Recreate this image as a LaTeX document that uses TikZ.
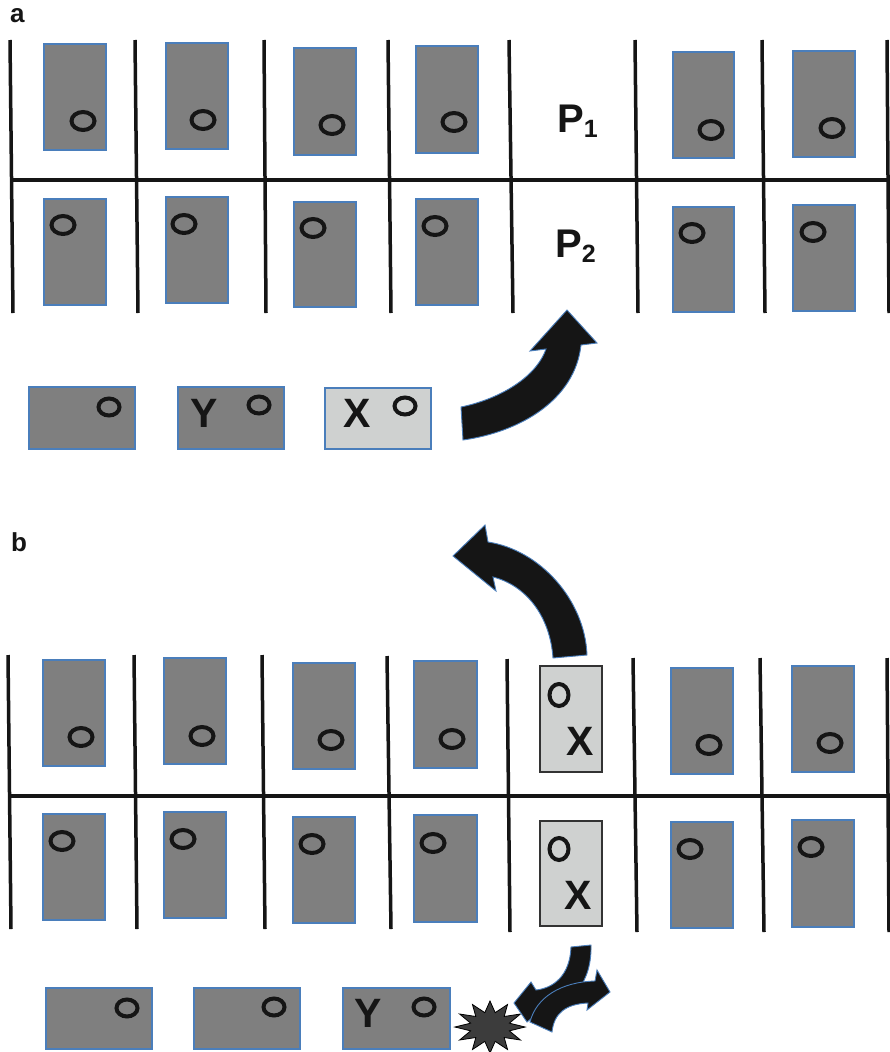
\documentclass[tikz,border=0pt]{standalone}
\usepackage{fontspec}
\setmainfont{Liberation Sans}
\usetikzlibrary{shapes.geometric}
\definecolor{boxgray}{HTML}{7F7F7F}
\definecolor{lightbox}{HTML}{CFD1D0}
\definecolor{edgeblue}{HTML}{4A7EBB}
\definecolor{ink}{HTML}{151515}
\definecolor{burstgray}{HTML}{3C3C3C}
\begin{document}
\begin{tikzpicture}[x=1pt,y=-1pt,
  gridline/.style={draw=ink, line width=3.5pt},
  cell/.style={draw=edgeblue, line width=1.2pt, fill=boxgray},
  xcell/.style={draw=edgeblue, line width=1.2pt, fill=lightbox},
  xcellb/.style={draw=black!80, line width=1.6pt, fill=lightbox},
  ring/.style={draw=ink, line width=4pt},
  bigarrow/.style={fill=ink, draw=edgeblue, line width=0.9pt, line join=miter},
  lbl/.style={font=\fontsize{41}{41}\selectfont\bfseries, text=ink, inner sep=0pt},
  plbl/.style={font=\fontsize{40}{40}\selectfont\bfseries, text=ink, inner sep=0pt, anchor=base west},
  panel/.style={font=\fontsize{26}{26}\selectfont\bfseries, text=ink, inner sep=0pt, anchor=base west}
]
\useasboundingbox (0,0) rectangle (889,1052);
\fill[white] (0,0) rectangle (889,1052);

% ---------------- panel a ----------------
\node[panel] (lbla) at (10,23) {a};
% grid
\draw[gridline] (10,40) -- (13,313);
\draw[gridline] (135,40) -- (138,313);
\draw[gridline] (264,40) -- (266,313);
\draw[gridline] (388,40) -- (391,313);
\draw[gridline] (509,40) -- (513,313);
\draw[gridline] (635,40) -- (638,313);
\draw[gridline] (762,40) -- (765,313);
\draw[gridline] (887,40) -- (889,313);
\draw[gridline] (11,180) -- (889,180);
% row 1
\draw[cell] (44,44) rectangle (106,150);   \draw[ring] (83,121) ellipse [x radius=11.5pt, y radius=9pt];
\draw[cell] (166,43) rectangle (228,149);  \draw[ring] (203,120) ellipse [x radius=11.5pt, y radius=9pt];
\draw[cell] (294,48) rectangle (356,155);  \draw[ring] (332,125) ellipse [x radius=11.5pt, y radius=9pt];
\draw[cell] (416,46) rectangle (478,153);  \draw[ring] (454,122) ellipse [x radius=11.5pt, y radius=9pt];
\draw[cell] (673,52) rectangle (734,158);  \draw[ring] (711,130) ellipse [x radius=11.5pt, y radius=9pt];
\draw[cell] (793,51) rectangle (855,157);  \draw[ring] (832,128) ellipse [x radius=11.5pt, y radius=9pt];
% row 2
\draw[cell] (44,199) rectangle (106,305);  \draw[ring] (63,225) ellipse [x radius=11.5pt, y radius=9pt];
\draw[cell] (166,197) rectangle (228,303); \draw[ring] (184,224) ellipse [x radius=11.5pt, y radius=9pt];
\draw[cell] (294,202) rectangle (356,307); \draw[ring] (313,228) ellipse [x radius=11.5pt, y radius=9pt];
\draw[cell] (416,199) rectangle (478,305); \draw[ring] (435,226) ellipse [x radius=11.5pt, y radius=9pt];
\draw[cell] (673,207) rectangle (734,312); \draw[ring] (692,233) ellipse [x radius=11.5pt, y radius=9pt];
\draw[cell] (793,205) rectangle (855,311); \draw[ring] (813,232) ellipse [x radius=11.5pt, y radius=9pt];
% labels P1 P2
\node[plbl] (p1) at (557,132) {P\raisebox{-5pt}{\fontsize{25}{25}\selectfont 1}};
\node[plbl] (p2) at (555,257) {P\raisebox{-5pt}{\fontsize{25}{25}\selectfont 2}};
% waiting row
\draw[cell] (29,387) rectangle (135,449);  \draw[ring] (109,407) ellipse [x radius=10.5pt, y radius=8.5pt];
\draw[cell] (178,387) rectangle (284,449); \draw[ring] (259,405) ellipse [x radius=10.5pt, y radius=8.5pt];
\node[lbl] (ya) at (204,413) {Y};
\draw[xcell] (325,388) rectangle (431,449); \draw[ring] (405,406) ellipse [x radius=10.5pt, y radius=8.5pt];
\node[lbl] (xa) at (357,413) {X};
% arrow a
\filldraw[bigarrow] (461,407) .. controls (495,400) and (535,380) .. (546,349)
  -- (530,351) -- (567,310) -- (597,343) -- (581,345)
  .. controls (575,400) and (520,432) .. (463,440) -- cycle;

% ---------------- panel b ----------------
\node[panel] (lblb) at (11,551) {b};
\draw[gridline] (8,655) -- (11,929);
\draw[gridline] (134,655) -- (137,929);
\draw[gridline] (262,655) -- (265,929);
\draw[gridline] (387,656) -- (391,929);
\draw[gridline] (507,659) -- (510,932);
\draw[gridline] (633,658) -- (637,932);
\draw[gridline] (760,658) -- (764,932);
\draw[gridline] (887,658) -- (889,932);
\draw[gridline] (9,796) -- (889,796);
% row 1
\draw[cell] (43,660) rectangle (105,766);  \draw[ring] (81,737) ellipse [x radius=11.5pt, y radius=9pt];
\draw[cell] (164,658) rectangle (226,764); \draw[ring] (202,736) ellipse [x radius=11.5pt, y radius=9pt];
\draw[cell] (293,663) rectangle (355,769); \draw[ring] (331,740) ellipse [x radius=11.5pt, y radius=9pt];
\draw[cell] (414,661) rectangle (477,768); \draw[ring] (452,739) ellipse [x radius=11.5pt, y radius=9pt];
\draw[xcellb] (540,666) rectangle (602,772); \draw[ring] (559,695) ellipse [x radius=9.5pt, y radius=11pt];
\node[lbl] (xb1) at (580,741) {X};
\draw[cell] (671,668) rectangle (733,774); \draw[ring] (709,745) ellipse [x radius=11.5pt, y radius=9pt];
\draw[cell] (792,666) rectangle (854,772); \draw[ring] (830,743) ellipse [x radius=11.5pt, y radius=9pt];
% row 2
\draw[cell] (43,814) rectangle (105,920);  \draw[ring] (62,841) ellipse [x radius=11.5pt, y radius=9pt];
\draw[cell] (164,812) rectangle (226,918); \draw[ring] (183,839) ellipse [x radius=11.5pt, y radius=9pt];
\draw[cell] (293,817) rectangle (355,923); \draw[ring] (312,844) ellipse [x radius=11.5pt, y radius=9pt];
\draw[cell] (414,815) rectangle (477,922); \draw[ring] (433,843) ellipse [x radius=11.5pt, y radius=9pt];
\draw[xcellb] (540,821) rectangle (602,926); \draw[ring] (559,849) ellipse [x radius=9.5pt, y radius=11pt];
\node[lbl] (xb2) at (578,895) {X};
\draw[cell] (671,822) rectangle (733,928); \draw[ring] (690,849) ellipse [x radius=11.5pt, y radius=9pt];
\draw[cell] (792,820) rectangle (854,927); \draw[ring] (811,847) ellipse [x radius=11.5pt, y radius=9pt];
% waiting row
\draw[cell] (46,988) rectangle (152,1049);  \draw[ring] (127,1008) ellipse [x radius=10.5pt, y radius=8.5pt];
\draw[cell] (194,988) rectangle (300,1049); \draw[ring] (274,1007) ellipse [x radius=10.5pt, y radius=8.5pt];
\draw[cell] (343,988) rectangle (450,1049); \draw[ring] (424,1007) ellipse [x radius=10.5pt, y radius=8.5pt];
\node[lbl] (yb) at (368,1013) {Y};
% burst
\node[star, star points=12, star point ratio=1.75, minimum size=52pt, inner sep=0pt,
      fill=burstgray, draw=black, line width=0.8pt, xscale=1.35, transform shape] (burst) at (490,1027) {};
% arrow b top
\filldraw[bigarrow] (587,655) .. controls (585,600) and (540,550) .. (488,542)
  -- (485,525) -- (453,556) -- (496,591) -- (493,577)
  .. controls (525,585) and (550,615) .. (553,658) -- cycle;
% small arrows
\filldraw[bigarrow] (571,947) .. controls (570,975) and (554,988) .. (536,990)
  -- (531,982) -- (514,1003) -- (527,1022) -- (541,1011)
  .. controls (572,1006) and (592,982) .. (591,945) -- cycle;
\filldraw[bigarrow] (530,1022) .. controls (536,998) and (560,982) .. (595,981)
  -- (597,970) -- (610,992) -- (587,1010) -- (588,1003)
  .. controls (566,1004) and (554,1013) .. (552,1032) -- cycle;
\end{tikzpicture}
\end{document}
